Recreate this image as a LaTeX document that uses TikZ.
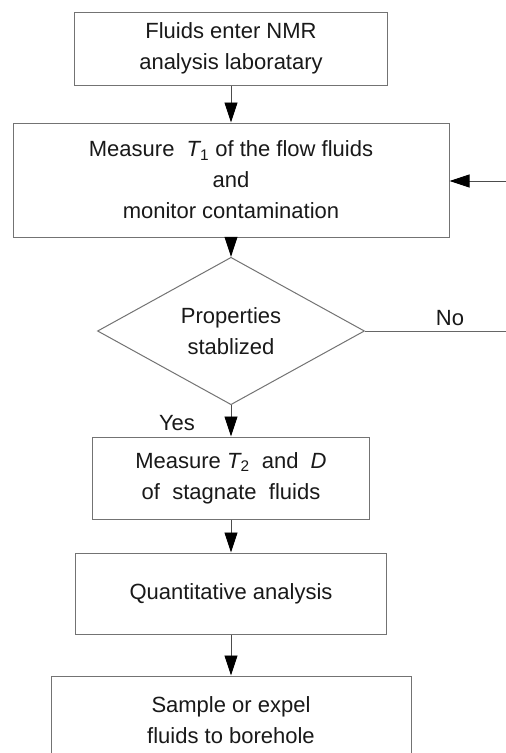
\documentclass[tikz,border=0pt]{standalone}
\usepackage{fontspec}
\setmainfont{Liberation Sans}
\usetikzlibrary{arrows.meta,shapes.geometric}
\tikzset{
  box/.style={draw=black!55, line width=1pt, rectangle, align=center, inner sep=0pt, text=black!90},
  decide/.style={draw=black!55, line width=1pt, diamond, align=center, inner sep=0pt, text=black!90, minimum width=267pt, minimum height=124pt},
  flow/.style={draw=black!70, line width=0.9pt, -{Triangle[length=20pt,width=13pt,color=black]}},
  plain/.style={draw=black!60, line width=0.9pt},
  lbl/.style={text=black!90, inner sep=0pt}
}
\begin{document}
\begin{tikzpicture}[x=1pt,y=-1pt,font=\fontsize{22}{31}\selectfont]
\clip (0,0) rectangle (506,753);
\fill[white] (0,0) rectangle (506,753);
\node[box, minimum width=313pt, minimum height=73pt] (b1) at (231,48.5) {Fluids enter NMR\\analysis laboratary};
\node[box, minimum width=436pt, minimum height=114pt] (b2) at (231,180) {Measure\ \ {\itshape T}\textsubscript{1} of the flow fluids\\and\\monitor contamination};
\node[decide] (d) at (231,331) {Properties\\stablized};
\node[box, minimum width=277pt, minimum height=82pt] (b3) at (231,478) {Measure {\itshape T}\textsubscript{2}\ \ and\ \ {\itshape D}\\of\ \ stagnate\ \ fluids};
\node[box, minimum width=311pt, minimum height=81pt] (b4) at (231,593.5) {Quantitative analysis};
\node[box, minimum width=360pt, minimum height=88pt] (b5) at (231,720) {Sample or expel\\fluids to borehole};
\node[lbl] (no) at (450,318) {No};
\node[lbl] (yes) at (177,423) {Yes};
\coordinate (rin) at (506,181);
\coordinate (nout) at (506,331);
\draw[flow] (b1) -- (b2);
\draw[flow] (b2) -- (d);
\draw[flow] (d) -- (b3);
\draw[flow] (b3) -- (b4);
\draw[flow] (b4) -- (b5);
\draw[flow] (rin) -- (b2.east |- rin);
\draw[plain] (d.east) -- (nout);
\end{tikzpicture}
\end{document}
